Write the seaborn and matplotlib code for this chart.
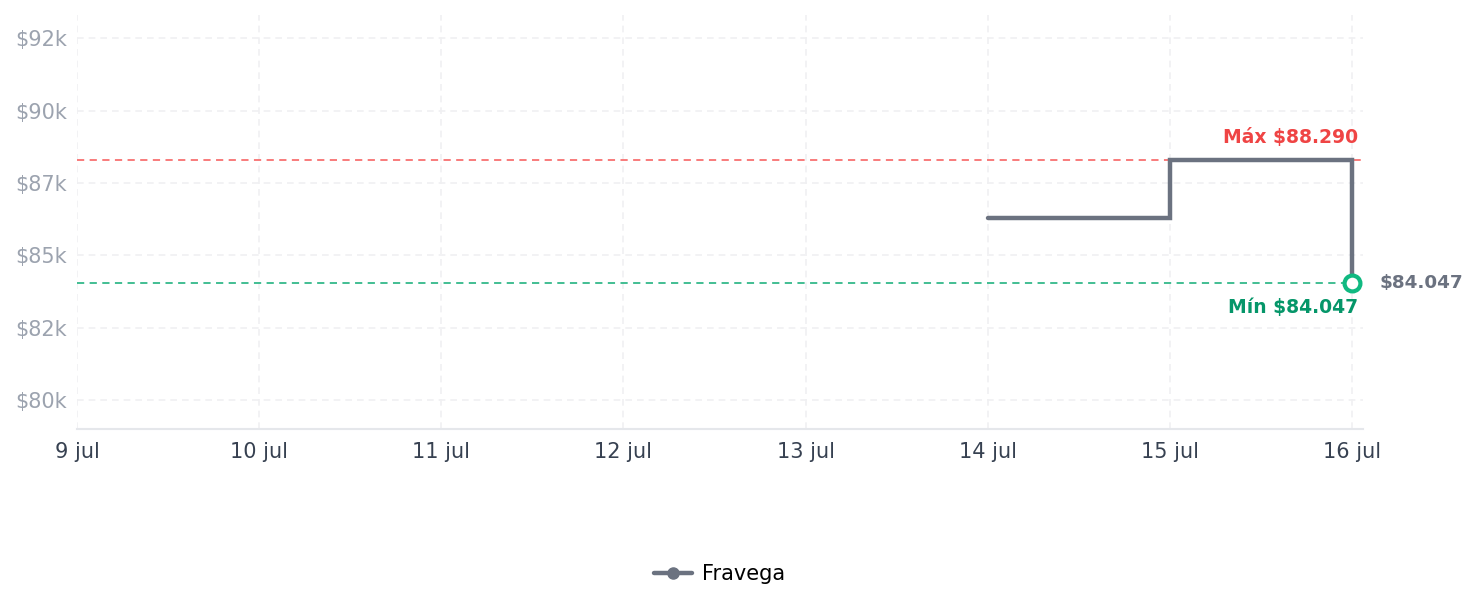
import matplotlib
matplotlib.use("Agg")
import matplotlib.pyplot as plt
import matplotlib.dates as mdates
from matplotlib.lines import Line2D
from matplotlib.ticker import FixedLocator, FuncFormatter
import seaborn as sns
import pandas as pd
import numpy as np

# ---- data ----
dates = ["2025-07-14", "2025-07-15", "2025-07-16"]
prices = [86300, 88290, 84047]
store = "Fravega"
max_price = 88290
min_price = 84047
y_ticks = [80000, 82500, 85000, 87500, 90000, 92500]
y_tick_labels = ["$80k", "$82k", "$85k", "$87k", "$90k", "$92k"]
x_start = "2025-07-09"
x_end = "2025-07-16"
month_names = ["ene", "feb", "mar", "abr", "may", "jun", "jul", "ago", "sep", "oct", "nov", "dic"]

df = pd.DataFrame({"fecha": pd.to_datetime(dates), "precio": prices, "tienda": store})

sns.set_theme(style="white")
plt.rcParams["font.family"] = ["DejaVu Sans"]

fig = plt.figure(figsize=(14.78, 6.07), dpi=100)
ax = fig.add_axes([0.0521, 0.2932, 0.8701, 0.6821])

line_color = "#6b7280"
sns.lineplot(data=df, x="fecha", y="precio", ax=ax, color=line_color, linewidth=3.2,
             drawstyle="steps-post", legend=False, solid_joinstyle="miter")

# reference lines
ax.axhline(max_price, color="#f87171", linestyle=(0, (4, 3)), linewidth=1.3, zorder=1)
ax.axhline(min_price, color="#34b98a", linestyle=(0, (4, 3)), linewidth=1.3, zorder=1)

# last point marker
last = df.iloc[-1]
sns.scatterplot(x=[last["fecha"]], y=[last["precio"]], ax=ax, s=130, color="white",
                edgecolor="#10b981", linewidth=3, zorder=5, legend=False)

# annotations
xend = pd.Timestamp(x_end)
ax.annotate(f"Máx $88.290", xy=(xend, max_price), xytext=(4, 12.5), textcoords="offset points",
            ha="right", va="baseline", fontsize=13.5, fontweight="bold", color="#ef4444")
ax.annotate(f"Mín $84.047", xy=(xend, min_price), xytext=(4, -22), textcoords="offset points",
            ha="right", va="baseline", fontsize=13.5, fontweight="bold", color="#059669")
ax.annotate(f"$84.047", xy=(last["fecha"], last["precio"]), xytext=(20, 0), textcoords="offset points",
            ha="left", va="center", fontsize=13.2, fontweight="bold", color="#6b7280",
            annotation_clip=False)

# axes limits & ticks
x0 = mdates.date2num(pd.Timestamp(x_start))
x1 = mdates.date2num(xend)
ax.set_xlim(x0, x1 + 0.06)
ax.set_ylim(79000, 93300)
ax.xaxis.set_major_locator(mdates.DayLocator())
ax.xaxis.set_major_formatter(FuncFormatter(
    lambda v, p: f"{mdates.num2date(v).day} {month_names[mdates.num2date(v).month - 1]}"))
ax.yaxis.set_major_locator(FixedLocator(y_ticks))
ax.set_yticklabels(y_tick_labels)

ax.tick_params(axis="y", colors="#9ca3af", labelsize=15, length=0, pad=7)
ax.tick_params(axis="x", colors="#374151", labelsize=15, length=0, pad=9)
ax.set_xlabel("")
ax.set_ylabel("")

ax.grid(True, color="#f0f0f2", linestyle=(0, (4, 3)), linewidth=1.2)
ax.set_axisbelow(True)
for s in ["top", "right", "left"]:
    ax.spines[s].set_visible(False)
ax.spines["bottom"].set_color("#e5e7eb")
ax.spines["bottom"].set_linewidth(1.5)

handle = Line2D([], [], color=line_color, linewidth=3.2, marker="o", markersize=8)
ax.legend(handles=[handle], labels=[store], loc="center", bbox_to_anchor=(0.5, -0.35),
          frameon=False, fontsize=15, handlelength=1.8, handletextpad=0.5, labelcolor="black")

fig.savefig("out.png", dpi=100)
